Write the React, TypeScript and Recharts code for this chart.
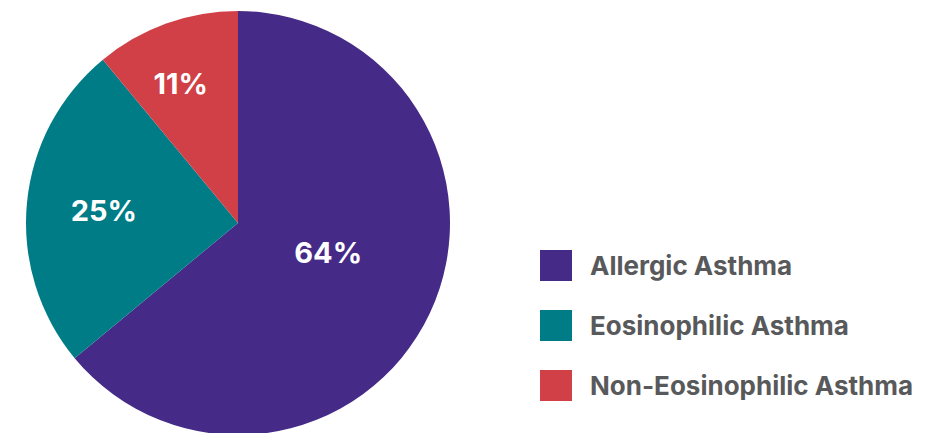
import { PieChart, Pie, Cell, Legend } from 'recharts'

// asthma phenotype shares (%)
const categories = ['Allergic Asthma', 'Eosinophilic Asthma', 'Non-Eosinophilic Asthma']
const shares = [64, 25, 11]
const colors = ['#452B87', '#007C86', '#D13F47']

const data = categories.map((name, i) => ({ name, value: shares[i] }))

const RADIAN = Math.PI / 180
// label distance from the centre, as a fraction of the radius, plus a small nudge
const labelFrac = [0.46, 0.64, 0.7]
const labelNudge = [[2, -12], [1, 0], [-7, 0]]

const renderLabel = (props: any) => {
  const { cx, cy, midAngle, outerRadius, value, index } = props
  const r = outerRadius * labelFrac[index]
  const x = cx + r * Math.cos(-midAngle * RADIAN) + labelNudge[index][0]
  const y = cy + r * Math.sin(-midAngle * RADIAN) + labelNudge[index][1]
  return (
    <text
      x={x}
      y={y}
      fill="#fff"
      textAnchor="middle"
      dominantBaseline="central"
      fontFamily="Inter, sans-serif"
      fontWeight={700}
      fontSize={29}
    >
      {value}%
    </text>
  )
}

const renderLegend = () => (
  <div style={{ fontFamily: 'Inter, sans-serif' }}>
    {data.map((d, i) => (
      <div key={d.name} style={{ display: 'flex', alignItems: 'center', height: 60 }}>
        <div style={{ width: 32, height: 31, background: colors[i], marginRight: 18 }} />
        <span style={{ fontSize: 26, fontWeight: 700, color: '#58595B' }}>{d.name}</span>
      </div>
    ))}
  </div>
)

export default function App() {
  return (
    <PieChart width={921} height={425} margin={{ top: 0, right: 0, bottom: 0, left: 0 }}>
      <Pie
        data={data}
        dataKey="value"
        nameKey="name"
        cx={230}
        cy={215}
        outerRadius={212}
        startAngle={90}
        endAngle={-270}
        stroke="none"
        labelLine={false}
        label={renderLabel}
        isAnimationActive={false}
      >
        {data.map((d, i) => (
          <Cell key={d.name} fill={colors[i]} />
        ))}
      </Pie>
      <Legend
        content={renderLegend}
        layout="vertical"
        wrapperStyle={{ left: 532, top: 227, width: 389 }}
      />
    </PieChart>
  )
}
